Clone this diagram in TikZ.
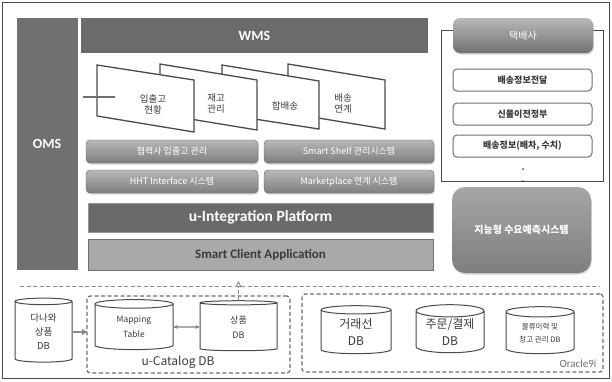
\documentclass[tikz,border=0pt]{standalone}
\usepackage{fontspec}
\setmainfont{Carlito}
\newfontfamily\kr{Noto Sans CJK KR}
\usetikzlibrary{shapes.geometric,shadows,arrows.meta}
\definecolor{omsg}{HTML}{707070}
\definecolor{wmsg}{HTML}{6B6B6B}
\definecolor{btntop}{HTML}{B8B8B8}
\definecolor{btnbot}{HTML}{7E7E7E}
\definecolor{edge}{HTML}{4A4A4A}
\definecolor{dashg}{HTML}{6E6E6E}
\definecolor{uintg}{HTML}{6A6A6A}
\definecolor{scag}{HTML}{A9A9A9}
\definecolor{txtd}{HTML}{3A3A3A}
\begin{document}
\begin{tikzpicture}[x=1pt,y=-1pt,
  box/.style={anchor=north west, inner sep=0pt, outer sep=0pt, align=center},
  btn/.style={box, rounded corners=4pt, top color=btntop, bottom color=btnbot, draw=btnbot!80!black,
     drop shadow={opacity=0.35, shadow xshift=0.8pt, shadow yshift=-1.5pt},
     text=white, font=\kr\fontsize{9}{11}\selectfont},
  wbox/.style={box, rounded corners=4pt, draw=dashg, line width=1pt, fill=white, text=txtd,
     font=\kr\bfseries\fontsize{9}{11}\selectfont},
  pagebox/.style={draw=edge, line width=1.3pt, fill=white, line join=miter},
  pagetxt/.style={align=center, text=txtd, font=\kr\fontsize{9.5}{11}\selectfont},
  db/.style={cylinder, shape border rotate=90, aspect=0.25, draw=edge, line width=1pt, fill=white,
     inner sep=0pt, outer sep=0pt, align=center, text=txtd},
  dashbox/.style={box, draw=dashg, line width=1.2pt, dash pattern=on 4pt off 2.5pt, rounded corners=3pt},
  dashln/.style={draw=dashg!80, line width=1pt, dash pattern=on 4pt off 2.5pt}
]
\useasboundingbox (0,0) rectangle (612,381);
\fill[white] (0,0) rectangle (612,381);
\draw[edge, line width=1.3pt] (2.5,2.5) rectangle (609.5,378.5);

% OMS and WMS
\node[box, fill=omsg, minimum width=61, minimum height=252] (oms) at (17,18) {};
\node[text=white, font=\bfseries\fontsize{14}{16}\selectfont] (omst) at (47,144) {OMS};
\node[box, fill=wmsg, minimum width=347, minimum height=35, text=white,
      font=\bfseries\fontsize{14}{16}\selectfont] (wms) at (81,18) {WMS};

% pages (back to front)
\filldraw[pagebox] (288,64) -- (385,80) -- (385,129) -- (288,113) -- cycle;
\filldraw[pagebox] (222,65) -- (319,81) -- (319,129) -- (222,114) -- cycle;
\filldraw[pagebox] (160,64) -- (257,80) -- (257,130) -- (160,114) -- cycle;
\filldraw[pagebox] (97,65) -- (194,80) -- (194,132) -- (97,116) -- cycle;
\coordinate (tabA) at (83,97);
\coordinate (tabB) at (115,97);
\draw[draw=omsg, line width=1.2pt] (tabA) -- (tabB);
\node[pagetxt] (p1) at (153,104) {입출고\\현황};
\node[pagetxt] (p2) at (216,103) {재고\\관리};
\node[pagetxt] (p3) at (285,106) {합배송};
\node[pagetxt] (p4) at (343,103) {배송\\연계};

% buttons
\node[btn, minimum width=172, minimum height=23] (b1) at (86,140) {협력사 입출고 관리};
\node[btn, minimum width=170, minimum height=23] (b2) at (264,140) {Smart Shelf 관리시스템};
\node[btn, minimum width=172, minimum height=23] (b3) at (86,170) {HHT Interface 시스템};
\node[btn, minimum width=170, minimum height=23] (b4) at (264,170) {Marketplace 연계 시스템};

\node[box, fill=uintg, draw=uintg!70!white, minimum width=345, minimum height=29, text=white,
      font=\bfseries\fontsize{15.5}{18}\selectfont] (uip) at (88,203) {u-Integration Platform};
\node[box, fill=scag, draw=omsg, minimum width=345, minimum height=31, text=txtd,
      font=\bfseries\fontsize{13}{15}\selectfont] (sca) at (88,239) {Smart Client Application};

% right panel
\node[box, draw=edge, line width=1pt, fill=white, minimum width=162, minimum height=151] (panel) at (441,30) {};
\node[box, rounded corners=7pt, top color=btntop, bottom color=btnbot!90!black,
      drop shadow={opacity=0.35, shadow xshift=0.8pt, shadow yshift=-1.5pt},
      minimum width=140, minimum height=35, text=white, font=\kr\fontsize{10}{12}\selectfont] (tb) at (453,18) {택배사};
\node[wbox, minimum width=139, minimum height=22] (i1) at (453,69) {배송정보전달};
\node[wbox, minimum width=139, minimum height=22] (i2) at (453,103) {신물이전정부};
\node[wbox, minimum width=139, minimum height=22] (i3) at (453,135) {배송정보(배차, 수치)};
\node[circle, fill=txtd, inner sep=0.7pt] (dot1) at (523,169) {};
\node[circle, fill=txtd, inner sep=0.7pt] (dot2) at (523,181) {};
\node[box, rounded corners=13pt, top color=btntop!90!black, bottom color=btnbot,
      drop shadow={opacity=0.35, shadow xshift=0.8pt, shadow yshift=-1.5pt},
      minimum width=139, minimum height=86, text=white, font=\kr\bfseries\fontsize{10}{12}\selectfont] (ai) at (452,187) {지능형 수요예측시스템};

% bottom section
\coordinate (dl1) at (20,286);
\coordinate (dl2) at (600,286);
\draw[dashln] (dl1) -- (dl2);

\node[db, minimum width=57, minimum height=64, font=\kr\fontsize{9.5}{14}\selectfont] (dnw) at (43.5,332) {다나와\\상품\\DB};
\node[dashbox, minimum width=203, minimum height=77] (ucat) at (87,296) {};
\node[text=txtd, font=\kr\fontsize{12}{14}\selectfont] (ucatl) at (178,362) {u-Catalog DB};
\node[db, minimum width=78, minimum height=50, font=\kr\fontsize{8.5}{15}\selectfont] (map) at (134,327) {Mapping\\Table};
\node[db, minimum width=77, minimum height=50, font=\kr\fontsize{9}{15}\selectfont] (sp) at (238.5,327) {상품\\DB};
\draw[draw=btnbot!90, line width=2pt, -{Triangle[length=5pt,width=6pt]}] (dnw.east) -- (dnw.east -| ucat.west);
\draw[draw=btnbot, line width=1.2pt, {Stealth[length=5pt]}-{Stealth[length=5pt]}] (map.east) -- (sp.west);
\coordinate (uptip) at (238.5,281);
\draw[dashln, line width=0.9pt, -{Triangle[open, length=6pt, width=6pt]}] (sp.north) -- (uptip);

\node[dashbox, minimum width=301, minimum height=78] (ora) at (302,294) {};
\node[text=omsg, font=\fontsize{11}{13}\selectfont, anchor=south east] (oral) at (600,371) {Oracle9i};
\node[db, minimum width=70, minimum height=48, font=\kr\fontsize{12}{17}\selectfont] (d1) at (356,332) {거래선\\DB};
\node[db, minimum width=68, minimum height=48, font=\kr\fontsize{12}{17}\selectfont] (d2) at (450,332) {주문/결제\\DB};
\node[db, minimum width=68, minimum height=47, font=\kr\fontsize{7.5}{13}\selectfont] (d3) at (540,333) {물류이력 및\\창고 관리 DB};
\end{tikzpicture}
\end{document}
